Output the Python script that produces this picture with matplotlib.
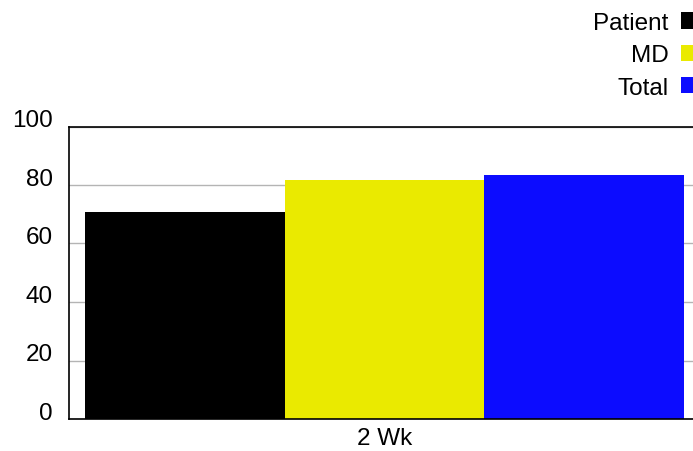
import numpy as np
import matplotlib.pyplot as plt
from matplotlib.patches import Patch

plt.rcParams['font.family'] = ['Liberation Sans', 'DejaVu Sans']

# Data
categories = ['2 Wk']
series_names = ['Patient', 'MD', 'Total']
series_values = [70.6, 81.7, 83.4]
series_colors = ['#000000', '#eaea00', '#0c0cff']

W, H = 693, 452
fs = 17.5
fig = plt.figure(figsize=(W / 100, H / 100), dpi=100)
# axes box in pixels: left 69, right ~700 (cut off), bottom 32 from bottom, top at 127.5
ax = fig.add_axes([69 / W, 32 / H, 631 / W, 292.5 / H])

x = np.arange(len(categories))
offsets = [-1, 0, 1]
for name, val, col, off in zip(series_names, series_values, series_colors, offsets):
    ax.bar(x + off, [val], width=1.0, color=col, label=name, zorder=2)

ax.set_xlim(-1.58, 1.58)
ax.set_ylim(0, 100)
ax.set_yticks([0, 20, 40, 60, 80, 100])
ax.set_xticks(x)
ax.set_xticklabels(categories)
ax.tick_params(axis='y', length=0, pad=11.5, labelsize=fs)
ax.tick_params(axis='x', length=0, pad=5.5, labelsize=fs)
# y labels sit on the grid lines
for lab in ax.get_yticklabels():
    lab.set_verticalalignment('baseline')

ax.grid(axis='y', color='#b4b4b4', linewidth=1.0, zorder=0)
ax.set_axisbelow(True)
for s in ['left', 'top', 'bottom']:
    ax.spines[s].set_linewidth(1.2)
    ax.spines[s].set_color('#000000')
ax.spines['right'].set_visible(False)

handles = [Patch(facecolor=c, edgecolor='none') for c in series_colors]
fig.legend(handles, series_names, loc='upper right',
           bbox_to_anchor=(695 / W, 1 - 13 / H),
           frameon=False, markerfirst=False, borderpad=0, borderaxespad=0,
           handlelength=0.58, handleheight=0.65, handletextpad=0.5,
           labelspacing=0.43, fontsize=fs)

fig.savefig('out.png', dpi=100)
